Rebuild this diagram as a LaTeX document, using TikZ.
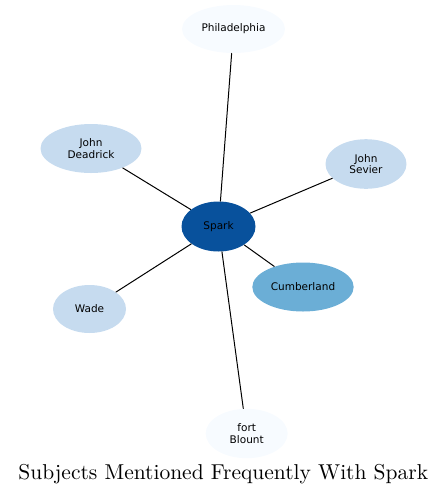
\documentclass[tikz,border=0pt]{standalone}
\usepackage{fontspec}
\newfontfamily\subjfont{DejaVu Sans}
\usetikzlibrary{shapes.geometric}
\definecolor{bluelight}{HTML}{F7FBFF}
\definecolor{bluepale}{HTML}{C6DBEF}
\definecolor{bluemid}{HTML}{6BAED6}
\definecolor{bluedark}{HTML}{08519C}

\begin{document}
\begin{tikzpicture}[line cap=round,line join=round,x=0.5pt,y=-0.5pt,
  subj/.style={ellipse,draw=none,inner sep=0pt,align=center,text=black,
    font=\subjfont\fontsize{5.25}{5.9}\selectfont},
  link/.style={line width=0.5pt,black}]
\useasboundingbox (0,0) rectangle (447,494);
\node[subj,fill=bluedark,minimum width=37pt,minimum height=25pt] (spark) at (218.5,226.5) {Spark};
\node[subj,fill=bluelight,minimum width=51.5pt,minimum height=24pt] (philadelphia) at (233.5,29) {Philadelphia};
\node[subj,fill=bluepale,minimum width=50.5pt,minimum height=24.5pt] (deadrick) at (91,148.5) {John\\Deadrick};
\node[subj,fill=bluepale,minimum width=40.5pt,minimum height=24.8pt] (sevier) at (366,164) {John\\Sevier};
\node[subj,fill=bluemid,minimum width=50.7pt,minimum height=24.5pt] (cumberland) at (303,287) {Cumberland};
\node[subj,fill=bluepale,minimum width=36.5pt,minimum height=24pt] (wade) at (89.5,309) {Wade};
\node[subj,fill=bluelight,minimum width=41pt,minimum height=24.7pt] (blount) at (246.7,433.5) {fort\\Blount};
\draw [link] (spark) -- (philadelphia);
\draw [link] (spark) -- (deadrick);
\draw [link] (spark) -- (sevier);
\draw [link] (spark) -- (cumberland);
\draw [link] (spark) -- (wade);
\draw [link] (spark) -- (blount);
\node[anchor=base,inner sep=0pt,font=\fontsize{10.75}{13}\selectfont] (title) at (223.3,479) {Subjects Mentioned Frequently With Spark};
\end{tikzpicture}
\end{document}
